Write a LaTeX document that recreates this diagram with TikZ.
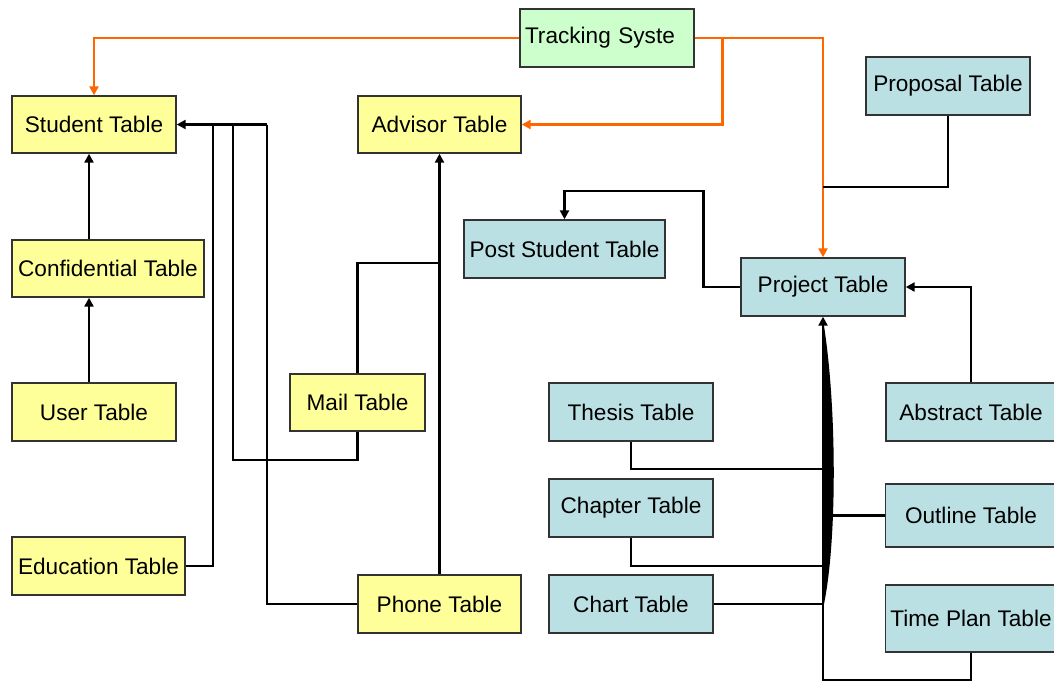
\documentclass[tikz,border=0pt]{standalone}
\usepackage{fontspec}
\setmainfont{Liberation Sans}
\usetikzlibrary{arrows.meta}
\definecolor{ylw}{HTML}{FFFF99}
\definecolor{grn}{HTML}{CCFFCC}
\definecolor{blu}{HTML}{BBE0E3}
\definecolor{org}{HTML}{FF6600}
\definecolor{edge}{HTML}{333333}
\tikzset{
  tbl/.style={draw=edge, line width=1.4pt, inner sep=2pt, font=\fontsize{22.6}{27}\selectfont},
  ytbl/.style={tbl, fill=ylw},
  btbl/.style={tbl, fill=blu},
  gtbl/.style={tbl, fill=grn},
  conn/.style={draw=black, line width=2.6pt},
  oconn/.style={draw=org, line width=2.8pt},
  tip/.style={-{Triangle[length=9pt,width=9pt]}},
}
\begin{document}
\begin{tikzpicture}[x=1pt,y=-1pt]
\useasboundingbox (0,0) rectangle (1054,680);
\clip (0,0) rectangle (1054,680);
\fill[white] (0,0) rectangle (1054,680);

% nodes
\node[gtbl, minimum width=174pt, minimum height=58pt, text width=164pt, align=left, inner xsep=5pt] (track) at (607,38) {Tracking Syste};
\node[ytbl, minimum width=164pt, minimum height=57pt] (student) at (94,124.5) {Student Table};
\node[ytbl, minimum width=163pt, minimum height=57pt] (advisor) at (439.5,124.5) {Advisor Table};
\node[btbl, minimum width=164pt, minimum height=58pt] (proposal) at (948,86) {Proposal Table};
\node[ytbl, minimum width=192pt, minimum height=57pt] (conf) at (108,268.5) {Confidential Table};
\node[btbl, minimum width=201pt, minimum height=58pt] (post) at (564.5,249) {Post Student Table};
\node[btbl, minimum width=164pt, minimum height=58pt] (project) at (823,287) {Project Table};
\node[ytbl, minimum width=164pt, minimum height=58pt] (user) at (94,412) {User Table};
\node[ytbl, minimum width=135pt, minimum height=57pt] (mail) at (357.5,402.5) {Mail Table};
\node[btbl, minimum width=164pt, minimum height=58pt] (thesis) at (631,412) {Thesis Table};
\node[btbl, minimum width=170pt, minimum height=58pt] (abstract) at (971,412) {Abstract Table};
\node[btbl, minimum width=164pt, minimum height=58pt] (chapter) at (631,508) {Chapter Table};
\node[btbl, minimum width=171pt, minimum height=63pt] (outline) at (971,515.5) {Outline Table};
\node[ytbl, minimum width=173pt, minimum height=58pt] (education) at (98.5,566) {Education Table};
\node[ytbl, minimum width=163pt, minimum height=58pt] (phone) at (439.5,604) {Phone Table};
\node[btbl, minimum width=164pt, minimum height=58pt] (chart) at (631,604) {Chart Table};
\node[btbl, minimum width=171pt, minimum height=67pt] (timeplan) at (971,618.5) {Time Plan Table};

% junction coordinates
\coordinate (oa) at (722.5,38);
\coordinate (pj) at (823,187);
\coordinate (pc) at (703.5,191);
\coordinate (v1) at (213,124.5);
\coordinate (v2) at (233,124.5);
\coordinate (v3) at (267,124.5);
\coordinate (mj) at (357.5,460);
\coordinate (aj) at (439.5,263);
\coordinate (tj) at (823,469);
\coordinate (cj) at (823,566);
\coordinate (chj) at (823,604);
\coordinate (oj) at (833,515.5);
\coordinate (bj) at (823,680.5);
\coordinate (bt) at (971,680.5);

% orange connectors
\draw[oconn, tip] (track.west) -| (student.north);
\draw[oconn, tip] (track.east) -- (oa) |- (advisor.east);
\draw[oconn, tip] (track.east) -| (project.north);

% black connectors
\draw[conn] (proposal.south) |- (pj);
\draw[conn, tip] (project.west) -| (pc) -| (post.north);
\draw[conn, tip] (abstract.north) |- (project.east);
\draw[conn, tip] ([xshift=-19pt]conf.north) -- ([xshift=-19pt]conf.north |- student.south);
\draw[conn, tip] ([xshift=-5pt]user.north) -- ([xshift=-5pt]user.north |- conf.south);
\draw[conn, tip] (v3) -- (student.east);
\draw[conn] (v1) |- (education.east);
\draw[conn] (v2) |- (mj) -- (mail.south);
\draw[conn] (v3) |- (phone.west);
\draw[conn] (mail.north) |- (aj);
\draw[conn, tip] (phone.north) -- (advisor.south);
\draw[conn] (thesis.south) |- (tj);
\draw[conn] (chapter.south) |- (cj);
\draw[conn] (chart.east) -- (chj);
\draw[conn] (outline.west) -- (oj);
\draw[conn] (timeplan.south) -- (bt) -- (bj);
\draw[conn, tip] (bj) -- (project.south);
\fill[black] (822,326) -- (824,326) .. controls (837,410) and (837,540) .. (824,604) -- (822,604) -- cycle;
\end{tikzpicture}
\end{document}
